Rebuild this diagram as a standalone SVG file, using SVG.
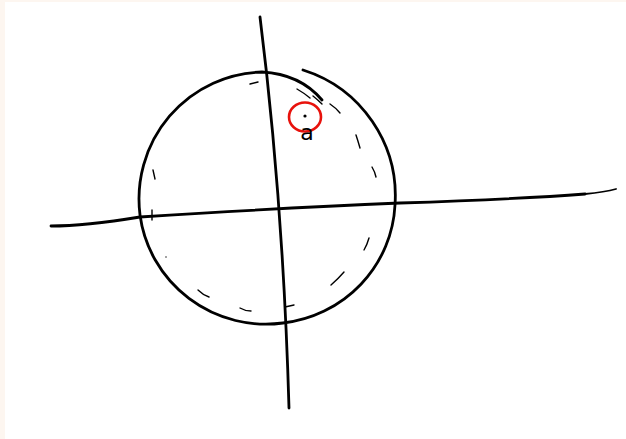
<svg xmlns="http://www.w3.org/2000/svg" width="626" height="439" viewBox="0 0 626 439">
<style>
.ink{fill:none;stroke:#000;stroke-linecap:round;stroke-linejoin:round}
.main{stroke-width:2.8}
.dash{stroke-width:1.4}
</style>
<rect x="0" y="0" width="626" height="439" fill="#fff"/>
<rect x="0" y="0" width="5" height="439" fill="#fdf6f0"/>
<rect x="0" y="0" width="626" height="2" fill="#fdf6f0"/>
<g id="axes">
<path class="ink main" d="M260,17 Q283,200 289,408"/>
<path class="ink main" d="M51,226 Q85,226 140,217 Q280,208 400,203 Q520,199 585,194"/>
<path class="ink" stroke-width="1.8" d="M585,194 Q605,192 616,189"/>
</g>
<g id="circle">
<path class="ink main" d="M303,70 A132,132 0 0 1 395,205 A127,125 0 0 1 283,323 A127,126 0 0 1 140,215 A126,127 0 0 1 262,72 Q300,74 322,100"/>
</g>
<g id="dashes">
<path class="ink dash" d="M153,170 L155,179"/>
<path class="ink dash" d="M152,210 L152,220"/>
<path class="ink dash" d="M198,290 Q203,295 209,297"/>
<path class="ink dash" d="M240,308 Q245,311 251,311"/>
<path class="ink dash" d="M285,307 L294,305"/>
<path class="ink dash" d="M331,285 Q338,279 344,272"/>
<path class="ink dash" d="M364,250 Q367,245 369,238"/>
<path class="ink dash" d="M372,167 Q375,172 376,177"/>
<path class="ink dash" d="M250,84 L258,82"/>
<path class="ink dash" d="M297,89 Q304,93 310,98"/>
<path class="ink dash" d="M313,96 Q318,100 322,104"/>
<path class="ink dash" d="M330,104 Q336,108 340,113"/>
<path class="ink dash" d="M356,135 Q358,141 360,148"/>
<circle cx="166" cy="257" r="0.7" fill="#000"/>
</g>
<g id="point-a">
<ellipse cx="305" cy="117" rx="16" ry="14.5" fill="none" stroke="#e8120c" stroke-width="2.6"/>
<circle cx="305" cy="116" r="1.6" fill="#000"/>
<text x="307" y="140" font-family="DejaVu Sans, sans-serif" font-size="22" text-anchor="middle" fill="#000">a</text>
</g>
</svg>
